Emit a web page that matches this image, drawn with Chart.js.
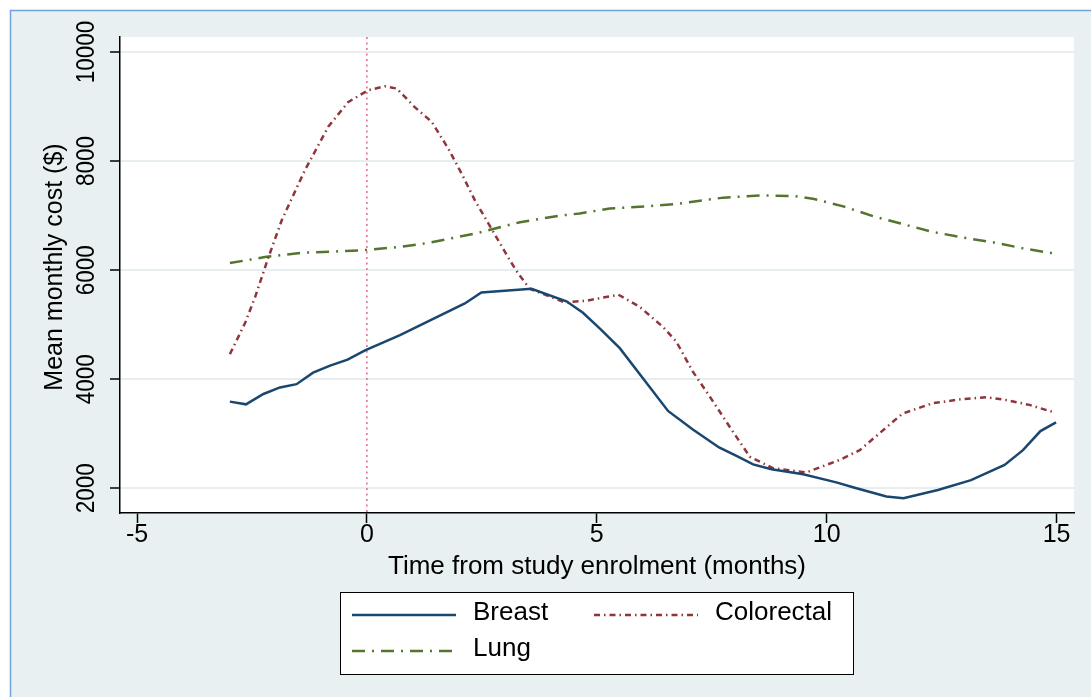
<!DOCTYPE html>
<html>
<head>
<meta charset="utf-8">
<script src="https://cdn.jsdelivr.net/npm/chart.js@4.4.1/dist/chart.umd.min.js"></script>
<style>
  html, body { margin: 0; padding: 0; background: #fff; }
  canvas { display: block; }
</style>
</head>
<body>
<canvas id="costChart" width="1091" height="697"></canvas>
<script>
const FONT = '"Liberation Sans", Arial, sans-serif';

// months from enrolment / mean monthly cost
const breastMonths = [-2.98, -2.63, -2.25, -1.89, -1.53, -1.17, -0.80, -0.42, -0.04, 0.72, 2.13, 2.49, 3.58, 4.34, 4.70, 5.08, 5.50, 6.15, 6.55, 7.09, 7.66, 8.05, 8.40, 8.80, 9.49, 10.21, 10.61, 11.30, 11.67, 12.42, 13.14, 13.87, 14.27, 14.65, 14.99];
const breastCost = [3590, 3540, 3730, 3850, 3910, 4120, 4250, 4360, 4530, 4810, 5390, 5590, 5660, 5430, 5220, 4920, 4570, 3860, 3420, 3080, 2750, 2590, 2440, 2350, 2260, 2110, 2010, 1850, 1820, 1970, 2150, 2430, 2700, 3050, 3210];

const colorectalMonths = [-2.98, -2.65, -2.43, -2.14, -1.85, -1.35, -0.84, -0.41, 0.03, 0.39, 0.65, 1.04, 1.41, 1.77, 2.06, 2.35, 3.11, 3.29, 3.54, 3.91, 4.30, 4.78, 5.47, 5.93, 6.44, 6.73, 7.09, 7.46, 7.96, 8.33, 8.83, 9.55, 10.28, 10.72, 11.15, 11.65, 12.30, 12.89, 13.47, 13.90, 14.41, 14.92];
const colorectalCost = [4460, 5030, 5510, 6240, 6920, 7830, 8630, 9080, 9300, 9370, 9330, 8990, 8720, 8230, 7770, 7280, 6180, 5940, 5660, 5540, 5410, 5440, 5550, 5330, 4960, 4690, 4140, 3680, 3040, 2580, 2370, 2290, 2520, 2700, 3010, 3370, 3560, 3630, 3670, 3620, 3530, 3400];

const lungMonths = [-2.98, -2.22, -1.42, -0.77, -0.01, 0.75, 1.33, 2.35, 3.33, 4.20, 4.63, 5.28, 6.08, 6.80, 7.75, 8.58, 9.27, 9.70, 10.36, 11.01, 11.59, 12.31, 12.96, 13.69, 14.27, 14.99];
const lungCost = [6130, 6240, 6320, 6340, 6370, 6430, 6500, 6670, 6880, 7000, 7040, 7130, 7170, 7220, 7330, 7370, 7360, 7310, 7170, 6990, 6860, 6700, 6600, 6500, 6400, 6300];

const xTicks = [-5, 0, 5, 10, 15];
const yTicks = [2000, 4000, 6000, 8000, 10000];
const enrolmentMonth = 0;
const yTitle = 'Mean monthly cost ($)';

const pts = (xs, ys) => xs.map((x, i) => ({ x, y: ys[i] }));

// grey graph region with the blue frame, white plot region
const frame = {
  id: 'frame',
  beforeDraw(chart) {
    const { ctx, chartArea: a, width, height } = chart;
    ctx.save();
    ctx.fillStyle = '#ffffff';
    ctx.fillRect(0, 0, width, height);
    ctx.fillStyle = '#e8f0f2';
    ctx.fillRect(10, 10, width, height);
    ctx.strokeStyle = '#6fa3d9';
    ctx.lineWidth = 1.5;
    ctx.beginPath();
    ctx.moveTo(10.5, height);
    ctx.lineTo(10.5, 10.5);
    ctx.lineTo(width, 10.5);
    ctx.stroke();
    ctx.fillStyle = '#ffffff';
    ctx.fillRect(a.left, a.top, a.right - a.left, a.bottom - a.top);
    ctx.restore();
  },
  beforeDatasetsDraw(chart) {
    const { ctx, chartArea: a, scales } = chart;
    const x = scales.x.getPixelForValue(enrolmentMonth);
    ctx.save();
    ctx.strokeStyle = '#e0507a';
    ctx.lineWidth = 1.3;
    ctx.setLineDash([2, 3.5]);
    ctx.beginPath();
    ctx.moveTo(x, a.top);
    ctx.lineTo(x, a.bottom);
    ctx.stroke();
    ctx.restore();
  }
};

// vertical y tick labels, y title and boxed legend
const extras = {
  id: 'extras',
  afterDraw(chart) {
    const { ctx, scales } = chart;
    ctx.save();
    ctx.fillStyle = '#000';
    ctx.font = '25px ' + FONT;
    ctx.textAlign = 'center';
    ctx.textBaseline = 'alphabetic';
    scales.y.ticks.forEach(t => {
      const y = scales.y.getPixelForValue(t.value);
      ctx.save();
      ctx.translate(94, y);
      ctx.rotate(-Math.PI / 2);
      ctx.scale(0.9, 1);
      ctx.fillText(String(t.value), 0, 0);
      ctx.restore();
    });

    ctx.save();
    ctx.translate(62, 267);
    ctx.rotate(-Math.PI / 2);
    ctx.fillText(yTitle, 0, 0);
    ctx.restore();

    ctx.fillStyle = '#fff';
    ctx.fillRect(340, 592, 513, 82);
    ctx.strokeStyle = '#000';
    ctx.lineWidth = 1;
    ctx.strokeRect(340.5, 592.5, 513, 82);
    const slots = [[352, 615], [594, 615], [352, 651]];
    ctx.textAlign = 'left';
    ctx.font = '26px ' + FONT;
    chart.data.datasets.forEach((ds, i) => {
      const [x, y] = slots[i];
      ctx.strokeStyle = ds.borderColor;
      ctx.lineWidth = ds.borderWidth;
      ctx.setLineDash(ds.borderDash || []);
      ctx.beginPath();
      ctx.moveTo(x, y);
      ctx.lineTo(x + 104, y);
      ctx.stroke();
      ctx.setLineDash([]);
      ctx.fillStyle = '#000';
      ctx.fillText(ds.label, x + 121, y + 5);
    });
    ctx.restore();
  }
};

new Chart(document.getElementById('costChart'), {
  type: 'line',
  data: {
    datasets: [
      { label: 'Breast', data: pts(breastMonths, breastCost), borderColor: '#1a476f', borderWidth: 2.5 },
      { label: 'Colorectal', data: pts(colorectalMonths, colorectalCost), borderColor: '#90353b', borderWidth: 2.5, borderDash: [6, 4, 1.5, 4] },
      { label: 'Lung', data: pts(lungMonths, lungCost), borderColor: '#55752f', borderWidth: 2.5, borderDash: [13, 7, 2, 7] }
    ]
  },
  options: {
    responsive: false,
    devicePixelRatio: 1,
    animation: false,
    parsing: false,
    elements: { point: { radius: 0 }, line: { tension: 0, fill: false } },
    layout: { padding: { left: 0, top: 37, right: 17, bottom: 0 } },
    plugins: { legend: { display: false }, tooltip: { enabled: false } },
    scales: {
      x: {
        type: 'linear',
        min: -5.37,
        max: 15.38,
        afterBuildTicks: s => { s.ticks = xTicks.map(v => ({ value: v })); },
        afterFit: s => { s.height = 184; },
        grid: { drawOnChartArea: false, tickLength: 10, tickColor: '#000', tickWidth: 1.5 },
        border: { color: '#000', width: 1.5 },
        ticks: { color: '#000', font: { family: FONT, size: 25, lineHeight: 1 }, padding: 0, maxRotation: 0 },
        title: { display: true, text: 'Time from study enrolment (months)', color: '#000', font: { family: FONT, size: 26 }, padding: { bottom: 115 } }
      },
      y: {
        type: 'linear',
        min: 1548,
        max: 10275,
        afterBuildTicks: s => { s.ticks = yTicks.map(v => ({ value: v })); },
        afterFit: s => { s.width = 120; },
        grid: { color: '#e6eef0', lineWidth: 2, tickLength: 10, tickColor: '#000', tickWidth: 1.5 },
        border: { color: '#000', width: 1.5 },
        ticks: { display: false },
        title: { display: false }
      }
    }
  },
  plugins: [frame, extras]
});
</script>
</body>
</html>
